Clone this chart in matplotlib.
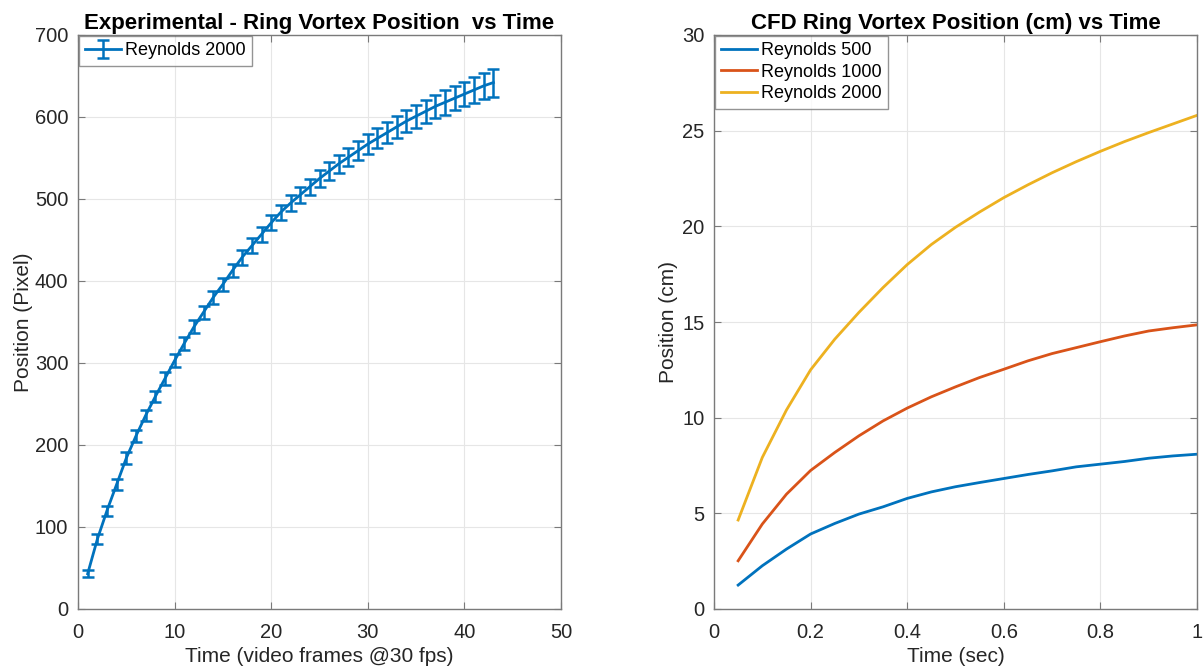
import matplotlib
matplotlib.use("Agg")
import matplotlib.pyplot as plt

plt.rcParams['font.family'] = ['Liberation Sans', 'DejaVu Sans']

# Experimental ring vortex position (pixels) per video frame
frames = list(range(1, 44))
position_px = [43, 85, 120, 152, 184, 211, 236, 259, 281, 303,
               324, 344, 362, 380, 396, 413, 429, 443, 457, 471,
               484, 495, 505, 515, 525, 534, 543, 551, 559, 567,
               574, 581, 588, 595, 601, 607, 613, 618, 623, 628,
               633, 638, 642]
position_err = [4, 6, 6, 7, 7, 7, 7, 7, 8, 8,
                8, 8, 8, 8, 8, 8, 9, 9, 9, 9,
                9, 10, 10, 10, 10, 11, 11, 11, 12, 12,
                12, 13, 13, 13, 14, 14, 14, 15, 15, 15,
                16, 16, 17]

# CFD ring vortex position (cm) vs time (s)
time_s = [0.05, 0.10, 0.15, 0.20, 0.25, 0.30, 0.35, 0.40, 0.45, 0.50,
          0.55, 0.60, 0.65, 0.70, 0.75, 0.80, 0.85, 0.90, 0.95, 1.00]
re500 = [1.25, 2.26, 3.13, 3.92, 4.47, 4.96, 5.34, 5.78, 6.12, 6.39,
         6.61, 6.82, 7.03, 7.22, 7.43, 7.57, 7.71, 7.88, 8.00, 8.09]
re1000 = [2.52, 4.44, 6.00, 7.24, 8.18, 9.05, 9.83, 10.50, 11.09, 11.61,
          12.10, 12.53, 12.97, 13.35, 13.66, 13.97, 14.27, 14.53, 14.70, 14.85]
re2000 = [4.65, 7.92, 10.40, 12.50, 14.10, 15.50, 16.80, 18.00, 19.05, 19.95,
          20.75, 21.50, 22.17, 22.80, 23.38, 23.92, 24.43, 24.90, 25.35, 25.80]

blue = '#0072BD'
orange = '#D95319'
yellow = '#EDB120'
axis_gray = '#7a7a7a'
text_gray = '#262626'

W, H = 1203, 670
fig = plt.figure(figsize=(W / 100, H / 100), dpi=100)

def style_axes(ax):
    ax.grid(True, color='#e6e6e6', linewidth=0.8)
    ax.set_axisbelow(True)
    for s in ax.spines.values():
        s.set_color(axis_gray)
        s.set_linewidth(1.0)
    ax.tick_params(direction='in', top=True, right=True, length=5,
                   color=axis_gray, labelcolor=text_gray, labelsize=14.5)
    ax.tick_params(axis='x', pad=10)
    ax.tick_params(axis='y', pad=7)

def style_legend(leg):
    leg.get_frame().set_edgecolor(axis_gray)
    leg.get_frame().set_linewidth(1.0)

# Left: experimental data with error bars
ax1 = fig.add_axes([78 / W, (H - 609) / H, (561 - 78) / W, (609 - 35) / H])
ax1.errorbar(frames, position_px, yerr=position_err, color=blue, linewidth=2.0,
             elinewidth=1.8, capsize=4, capthick=1.8, label='Reynolds 2000')
ax1.set_xlim(0, 50)
ax1.set_ylim(0, 700)
ax1.set_xticks([0, 10, 20, 30, 40, 50])
ax1.set_yticks(range(0, 701, 100))
style_axes(ax1)
ax1.set_xlabel('Time (video frames @30 fps)', fontsize=15, color=text_gray, labelpad=4)
ax1.set_ylabel('Position (Pixel)', fontsize=15, color=text_gray, labelpad=1)
ax1.set_title('Experimental - Ring Vortex Position  vs Time', fontsize=16,
              fontweight='bold', color='black', pad=4)
leg1 = ax1.legend(loc='upper left', fontsize=13, frameon=True, fancybox=False,
                  borderaxespad=0.05, handlelength=2.0, handletextpad=0.2,
                  borderpad=0.35)
style_legend(leg1)

# Right: CFD simulations
ax2 = fig.add_axes([714 / W, (H - 609) / H, (1197 - 714) / W, (609 - 35) / H])
ax2.plot(time_s, re500, color=blue, linewidth=2.0, label='Reynolds 500')
ax2.plot(time_s, re1000, color=orange, linewidth=2.0, label='Reynolds 1000')
ax2.plot(time_s, re2000, color=yellow, linewidth=2.0, label='Reynolds 2000')
ax2.set_xlim(0, 1)
ax2.set_ylim(0, 30)
ax2.set_xticks([0, 0.2, 0.4, 0.6, 0.8, 1])
ax2.set_xticklabels(['0', '0.2', '0.4', '0.6', '0.8', '1'])
ax2.set_yticks(range(0, 31, 5))
style_axes(ax2)
ax2.set_xlabel('Time (sec)', fontsize=15, color=text_gray, labelpad=4)
ax2.set_ylabel('Position (cm)', fontsize=15, color=text_gray, labelpad=3)
ax2.set_title('CFD Ring Vortex Position (cm) vs Time', fontsize=16,
              fontweight='bold', color='black', pad=4)
leg2 = ax2.legend(loc='upper left', fontsize=13, frameon=True, fancybox=False,
                  borderaxespad=0.05, handlelength=2.0, handletextpad=0.2,
                  borderpad=0.35, labelspacing=0.25)
style_legend(leg2)

fig.savefig('out.png', dpi=100, facecolor='white')
